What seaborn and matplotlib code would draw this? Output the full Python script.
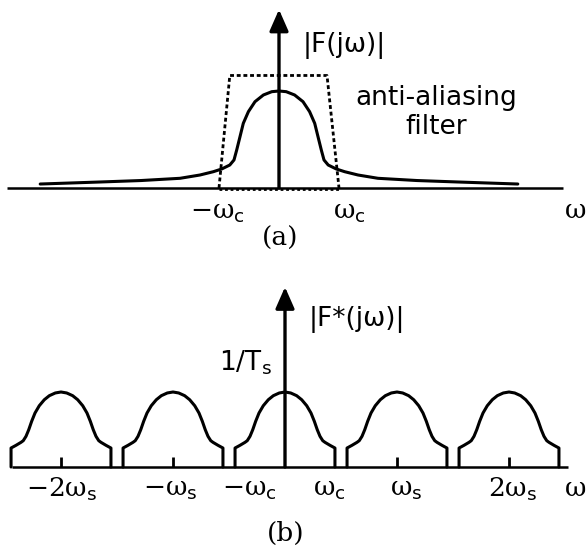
import numpy as np
import pandas as pd
import matplotlib
matplotlib.use('Agg')
import matplotlib.pyplot as plt
import seaborn as sns

sns.set_theme(style='white')
plt.rcParams['font.family'] = ['DejaVu Sans']
plt.rcParams['text.color'] = 'black'
plt.rcParams['mathtext.fontset'] = 'custom'
plt.rcParams['mathtext.rm'] = 'DejaVu Serif'
plt.rcParams['mathtext.it'] = 'DejaVu Serif:italic'
plt.rcParams['mathtext.sf'] = 'DejaVu Sans'

# (a) spectrum |F(jw)|, one half (w >= 0), w in units of wc
w_a = [0, 0.12, 0.26, 0.40, 0.51, 0.595, 0.65, 0.705, 0.75, 0.82, 0.955, 1.095,
       1.317, 1.65, 2.3, 2.98, 3.98]
mag_a = [1.0, 0.993, 0.959, 0.89, 0.787, 0.667, 0.529, 0.392, 0.289, 0.237, 0.196,
         0.168, 0.134, 0.10, 0.077, 0.062, 0.041]
# anti-aliasing filter (dashed)
w_filt = [-1.0, -0.82, 0.80, 1.0]
mag_filt = [0, 1.16, 1.16, 0]

# (b) sampled spectrum |F*(jw)|, one half of a lobe, w in units of ws
w_b = [0, 0.051, 0.104, 0.149, 0.194, 0.232, 0.262, 0.288, 0.3125, 0.337, 0.357,
       0.402, 0.446, 0.446]
mag_b = [1.0, 0.987, 0.951, 0.897, 0.817, 0.72, 0.609, 0.497, 0.409, 0.351, 0.329,
         0.289, 0.253, 0]
lobe_centers = [-2, -1, 0, 1, 2]
b_ticks = [-2, -1, 1, 2]

# tick labels
a_labels = [r'$-\mathrm{\omega}_{\mathsf{c}}$', r'$\mathrm{\omega}_{\mathsf{c}}$']
a_label_x = [-1.03, 1.17]
b_labels = [r'$-2\mathrm{\omega}_{\mathsf{s}}$', r'$-\mathrm{\omega}_{\mathsf{s}}$',
            r'$-\mathrm{\omega}_{\mathsf{c}}$', r'$\mathrm{\omega}_{\mathsf{c}}$',
            r'$\mathrm{\omega}_{\mathsf{s}}$', r'$2\mathrm{\omega}_{\mathsf{s}}$']
b_label_x = [-1.99, -1.02, -0.32, 0.40, 1.08, 2.03]

# build curves
half_a = pd.DataFrame({'w': w_a, 'mag': mag_a})
curve_a = pd.concat([pd.DataFrame({'w': [-v for v in w_a[::-1]], 'mag': mag_a[::-1]}),
                     half_a.iloc[1:]])
filt = pd.DataFrame({'w': w_filt, 'mag': mag_filt})

rows = []
for k in lobe_centers:
    xs = [k - v for v in w_b[::-1]] + [k + v for v in w_b[1:]]
    ys = mag_b[::-1] + mag_b[1:]
    for x, y in zip(xs, ys):
        rows.append({'lobe': k, 'w': x, 'mag': y})
lobes = pd.DataFrame(rows)

fig = plt.figure(figsize=(5.87, 5.5), dpi=100)
ax_a = fig.add_axes([0, 1 - 260 / 550, 1, 260 / 550])
ax_b = fig.add_axes([0, 0, 1, 290 / 550])
ax_a.set_xlim(-279 / 60, (587 - 279) / 60)
ax_a.set_ylim((188 - 260) / 97, 188 / 97)
ax_b.set_xlim(-285 / 112, (587 - 285) / 112)
ax_b.set_ylim((467 - 550) / 75, (467 - 260) / 75)

arrow_kw = dict(arrowstyle='-|>,head_length=0.5,head_width=0.22', mutation_scale=26,
                lw=2.4, color='black', shrinkA=0, shrinkB=0)
serif = ['DejaVu Serif']
lw_curve = 2.2

# ---- panel (a)
ax_a.plot([-4.53, 4.73], [0, 0], color='black', lw=1.8, solid_capstyle='butt')
sns.lineplot(data=curve_a, x='w', y='mag', sort=False, estimator=None, color='black',
             lw=lw_curve, ax=ax_a, legend=False)
ax_a.plot(filt['w'], filt['mag'], color='black', lw=2.0, linestyle=(0, (1.4, 1.0)))
ax_a.plot([-1.0, 1.0], [-0.01, -0.01], color='black', lw=2.0, linestyle=(0, (1, 1)))
ax_a.annotate('', xy=(0, 1.84), xytext=(0, 0), arrowprops=arrow_kw)
ax_a.text(0.40, 1.47, '|F(jω)|', fontsize=19, ha='left', va='center')
ax_a.text(2.62, 0.93, 'anti-aliasing', fontsize=19, ha='center', va='center')
ax_a.text(2.62, 0.63, 'filter', fontsize=19, ha='center', va='center')
for lab, x in zip(a_labels, a_label_x):
    ax_a.text(x, -0.25, lab, fontsize=19, ha='center', va='center')
ax_a.text(4.93, -0.24, r'$\mathrm{\omega}$', fontsize=19, ha='center', va='center')
ax_a.text(0.02, -0.52, '(a)', fontsize=19, ha='center', va='center', family=serif)

# ---- panel (b)
ax_b.plot([-2.44, 2.53], [0, 0], color='black', lw=1.8, solid_capstyle='butt')
sns.lineplot(data=lobes, x='w', y='mag', units='lobe', sort=False, estimator=None,
             color='black', lw=lw_curve, ax=ax_b, legend=False)
ax_b.vlines(b_ticks, 0, 0.13, color='black', lw=2.0)
ax_b.annotate('', xy=(0, 2.40), xytext=(0, 0), arrowprops=arrow_kw)
ax_b.text(0.21, 1.97, '|F*(jω)|', fontsize=19, ha='left', va='center')
ax_b.text(-0.12, 1.39, r'1/T$_{\mathsf{s}}$', fontsize=19, ha='right', va='center')
for lab, x in zip(b_labels, b_label_x):
    ax_b.text(x, -0.30, lab, fontsize=19, ha='center', va='center')
ax_b.text(2.59, -0.30, r'$\mathrm{\omega}$', fontsize=19, ha='center', va='center')
ax_b.text(0.01, -0.89, '(b)', fontsize=19, ha='center', va='center', family=serif)

for ax in (ax_a, ax_b):
    ax.set_axis_off()

fig.savefig('out.png', dpi=100)
